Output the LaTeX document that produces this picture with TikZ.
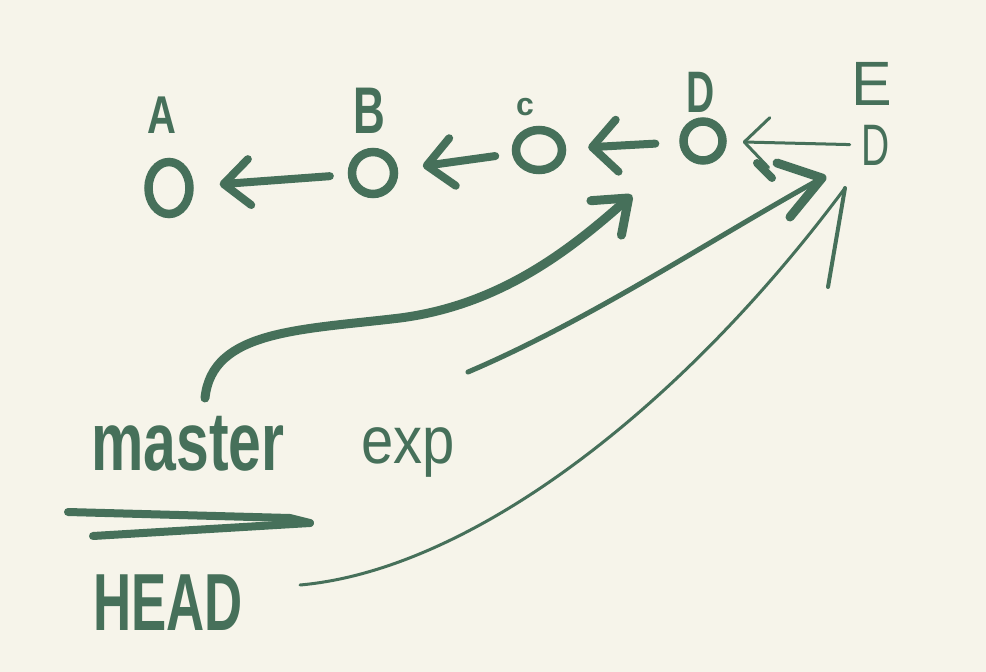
\documentclass[tikz,border=0pt]{standalone}
\usepackage{fontspec}
\setmainfont{Liberation Sans}
\usepackage{graphicx}
\usetikzlibrary{arrows.meta,shapes.geometric}
\definecolor{bg}{HTML}{F6F4EA}
\definecolor{ink}{HTML}{46705A}
\newcommand{\hw}[4]{\scalebox{#1}[#2]{\fontsize{#3}{#3}\selectfont #4}}
\begin{document}
\begin{tikzpicture}[x=1pt,y=-1pt,
  commit/.style={ellipse,draw=ink,line width=8.5pt,inner sep=0pt},
  heavy/.style={draw=ink,line width=8pt,line cap=round,line join=round},
  slim/.style={draw=ink,line width=3pt,line cap=round,line join=round},
  lbl/.style={text=ink,inner sep=0pt,anchor=base},
  barb/.style 2 args={-{Straight Barb[round,length=#1pt,width=#2pt]}}
]
\fill[bg] (0,0) rectangle (986,672);
\useasboundingbox (0,0) rectangle (986,672);

% commits
\node[commit,minimum width=41pt,minimum height=52pt] (A) at (169,188) {};
\node[commit,minimum width=42pt,minimum height=42pt] (B) at (373,173) {};
\node[commit,minimum width=46pt,minimum height=40pt] (C) at (539,150) {};
\node[commit,minimum width=39pt,minimum height=39pt] (D) at (703,141) {};

% commit labels
\node[lbl] (la) at (162,133) {\hw{1}{1.33}{40}{\bfseries A}};
\node[lbl] (lb) at (369,133) {\hw{1}{1.5}{44}{\bfseries B}};
\node[lbl] (lc) at (525,115) {\hw{1}{1}{32}{\bfseries c}};
\node[lbl] (ld) at (701,112) {\hw{1}{1.5}{39}{\bfseries D}};
\node[lbl] (le) at (872,105) {\hw{1.05}{1.08}{58}{E}};
\node[lbl] (d2) at (876,165) {\hw{1}{1.5}{39}{D}};

% branch labels
\node[lbl] (master) at (188,470) {\hw{0.92}{1.3}{64}{\bfseries master}};
\node[lbl] (exp) at (408,463) {\hw{1}{1.15}{58}{exp}};
\node[lbl] (head) at (168,630) {\hw{0.88}{1.35}{60}{\bfseries HEAD}};

% parent links
\draw[heavy,barb={26}{46},shorten <=18pt,shorten >=26pt] (B) -- (A);
\draw[heavy,barb={26}{48},shorten <=17pt,shorten >=25pt] (C) -- (B);
\draw[heavy,barb={25}{52},shorten <=24pt,shorten >=22pt] (D) -- (C);
\draw[slim,barb={25}{50},shorten <=12pt,shorten >=16pt] (d2.west) -- (D);
\coordinate (dArm) at (757,163);
\draw[heavy] (dArm) -- ++(15,15);

% master pointer
\coordinate (mStart) at (205,398);
\coordinate (mTip) at (632,195);
\draw[heavy,line width=9pt,barb={30}{46}] (mStart) .. controls (212,330) and (300,330) .. (400,318) .. controls (500,305) and (570,250) .. (mTip);

% exp pointer
\coordinate (eStart) at (468,372);
\coordinate (eTip) at (822,178);
\draw[draw=ink,line width=5pt,line cap=round] (eStart) .. controls (590,320) and (710,240) .. (eTip);
\draw[heavy,line width=9pt] (eTip) ++(-45,-15) -- (eTip) -- ++(-32,39);

% HEAD pointer
\coordinate (hStart) at (300,585);
\coordinate (hTip) at (845,188);
\draw[slim] (hStart) .. controls (470,570) and (680,410) .. (hTip);
\draw[draw=ink,line width=4pt,line cap=round] (hTip) -- ++(-17,99);

% double stroke under master
\draw[heavy] (68,512) -- (290,518) -- (310,523);
\draw[heavy] (93,536) -- (310,523);
\end{tikzpicture}
\end{document}
